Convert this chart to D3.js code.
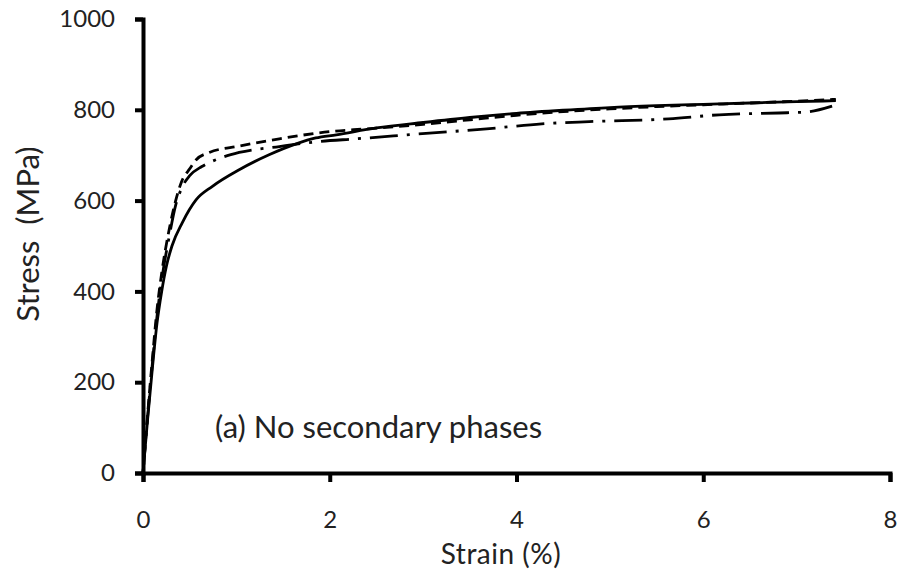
<!DOCTYPE html>
<html>
<head>
<meta charset="utf-8">
<script src="https://cdn.jsdelivr.net/npm/d3@7"></script>
<style>
  html, body { margin: 0; padding: 0; background: #fff; }
  svg { display: block; }
  text { font-family: Lato, "Open Sans", sans-serif; fill: #222; }
</style>
</head>
<body>
<svg id="chart" width="904" height="575"></svg>
<script>
// Stress–strain curves, strain in %, stress in MPa
const solidCurve = [
  [0,0],[0.05,120],[0.1,230],[0.15,330],[0.2,400],[0.25,455],[0.31,500],[0.42,551],
  [0.57,602],[0.74,631],[1.03,668],[1.35,701],[1.64,725],[1.85,738],[2.07,745],
  [2.5,760],[3.0,772],[3.5,783],[4.0,792],[4.5,799],[5.0,805],[5.5,809],[6.0,812],
  [6.5,815],[7.0,818],[7.42,820]
];
const dashedCurve = [
  [0,0],[0.05,130],[0.1,250],[0.15,360],[0.2,440],[0.28,536],[0.35,600],[0.41,640],
  [0.5,670],[0.57,690],[0.71,706],[1.03,720],[1.46,736],[2.0,752],[2.39,758],
  [3.0,768],[3.5,778],[4.0,788],[4.5,796],[5.0,802],[5.5,807],[6.0,811],[6.5,815],
  [7.0,819],[7.42,823]
];
const dashDotCurve = [
  [0,0],[0.05,125],[0.1,240],[0.15,345],[0.2,425],[0.28,520],[0.35,590],[0.42,630],
  [0.5,655],[0.63,675],[0.78,690],[1.03,706],[1.46,719],[1.88,730],[2.28,736],
  [3.03,748],[3.68,758],[4.27,769],[4.78,774],[5.63,780],[6.17,789],[6.81,793],
  [7.1,795],[7.38,808]
];
const xTicks = [0, 2, 4, 6, 8];
const yTicks = [0, 200, 400, 600, 800, 1000];

const svg = d3.select("#chart");
const x = d3.scaleLinear().domain([0, 8]).range([143, 890]);
const y = d3.scaleLinear().domain([0, 1000]).range([473, 19]);

const line = d3.line().x(d => x(d[0])).y(d => y(d[1])).curve(d3.curveMonotoneX);

// curves
const curves = [
  { data: solidCurve, dash: null },
  { data: dashedCurve, dash: "10,6" },
  { data: dashDotCurve, dash: "28,9,3,9" }
];
svg.append("g").selectAll("path").data(curves).join("path")
  .attr("d", d => line(d.data))
  .attr("fill", "none")
  .attr("stroke", "#000")
  .attr("stroke-width", 2.8)
  .attr("stroke-dasharray", d => d.dash);

// axes
const fmt = d3.format("d");
const xAxis = svg.append("g").attr("transform", `translate(0,${y(0)})`)
  .call(d3.axisBottom(x).tickValues(xTicks).tickFormat(fmt).tickSizeOuter(0).tickSize(9).tickPadding(29));
const yAxis = svg.append("g").attr("transform", `translate(${x(0)},0)`)
  .call(d3.axisLeft(y).tickValues(yTicks).tickFormat(fmt).tickSizeOuter(0).tickSize(8).tickPadding(20));

[xAxis, yAxis].forEach(g => {
  g.attr("font-size", null).attr("font-family", null);
  g.select(".domain").attr("stroke", "#000").attr("stroke-width", 4);
  g.selectAll(".tick line").attr("stroke", "#000").attr("stroke-width", 4);
  g.selectAll(".tick text").style("font-size", "24px").attr("fill", "#222");
});

// axis titles
svg.append("text")
  .attr("x", 501).attr("y", 564)
  .attr("text-anchor", "middle")
  .style("font-size", "28px")
  .style("letter-spacing", "0.5px")
  .text("Strain (%)");

svg.append("text")
  .attr("transform", "translate(39,234) rotate(-90)")
  .attr("text-anchor", "middle")
  .style("font-size", "31px")
  .style("white-space", "pre")
  .text("Stress  (MPa)");

// panel note
svg.append("text")
  .attr("x", 215).attr("y", 438)
  .style("font-size", "31px")
  .text("(a) No secondary phases");
</script>
</body>
</html>
